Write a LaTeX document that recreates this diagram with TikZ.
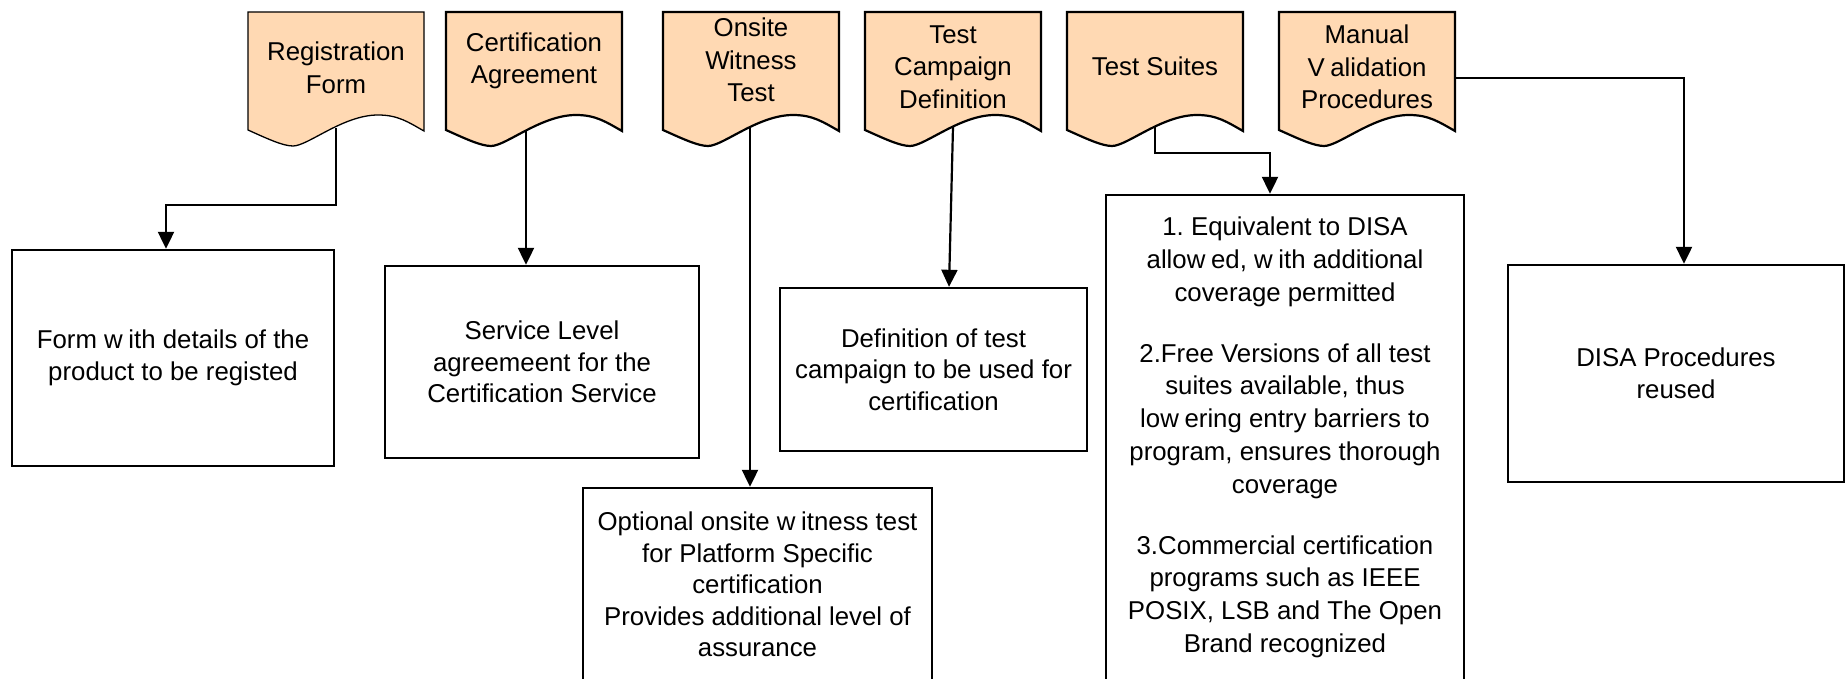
\documentclass[tikz,border=0pt]{standalone}
\usepackage{fontspec}
\setmainfont{Liberation Sans}
\usetikzlibrary{arrows.meta,calc}
\frenchspacing
\definecolor{peach}{RGB}{255,217,179}
\tikzset{
  box/.style={draw=black, line width=2.4pt, align=center, inner sep=0pt, font=\fontsize{25.8}{31.5}\selectfont},
  doctext/.style={align=center, inner sep=0pt, font=\fontsize{25.8}{32.5}\selectfont},
  docline/.style={draw=black, fill=peach, line width=2.2pt, line join=miter},
  conn/.style={line width=2.2pt, -{Triangle[length=17pt,width=16pt]}},
}
\newcommand{\wg}{\kern0.22em}
\newcommand{\docshape}[5][]{%
  \filldraw[docline,#1] (#3,12) -- (#3+176,12) -- (#3+176,131)
     .. controls (#3+160,122) and (#3+150,115) .. (#3+130,115)
     .. controls (#3+95,115) and (#3+60,146) .. (#3+45,146)
     .. controls (#3+35,146) and (#3+20,139) .. (#3,130) -- cycle;
  \node[doctext] (#2) at (#3+88,#4) {#5};
}
\begin{document}
\begin{tikzpicture}[x=1pt,y=-1pt]
\useasboundingbox (0,0) rectangle (1845,679);
% documents
\docshape[line width=1.3pt]{d1}{248}{68}{Registration\\Form}
\docshape{d2}{446}{61}{Certification\\Agreement}
\docshape{d3}{663}{60}{Onsite\\W\kern-0.02em itness\\Test}
\docshape{d4}{865}{67}{Test\\Campaign\\Definition}
\docshape{d5}{1067}{66}{Test Suites}
\docshape{d6}{1279}{67}{Manual\\V\wg alidation\\Procedures}
% boxes
\node[box, minimum width=322pt, minimum height=216pt] (b1) at (173,358)
  {Form w\wg ith details of the\\product to be registed};
\node[box, minimum width=314pt, minimum height=192pt] (b2) at (542,362)
  {Service Level\\agreemeent for the\\Certification Service};
\node[box, minimum width=349pt, minimum height=193pt] (b3) at (757.5,584.5)
  {Optional onsite w\wg itness test\\for Platform Specific\\certification\\Provides additional level of\\assurance};
\node[box, minimum width=307pt, minimum height=163pt] (b4) at (933.5,369.5)
  {Definition of test\\campaign to be used for\\certification};
\node[box, minimum width=358pt, minimum height=485pt, font=\fontsize{25.8}{32.8}\selectfont] (b5) at (1285,437.5)
  {1. Equivalent to DISA\\allow\wg ed, w\wg ith additional\\coverage permitted\\[28pt]
   2.Free Versions of all test\\suites available, thus\\low\wg ering entry barriers to\\program, ensures thorough\\coverage\\[28pt]
   3.Commercial certification\\programs such as IEEE\\POSIX, LSB and The Open\\Brand recognized};
\node[box, minimum width=336pt, minimum height=217pt, font=\fontsize{25.8}{32.5}\selectfont] (b6) at (1676,373.5)
  {DISA Procedures\\reused};
% connector points
\coordinate (s1) at (336,128);
\coordinate (a1) at (166,205);
\coordinate (s2) at (526,130);
\coordinate (s3) at (750,127);
\coordinate (s4) at (953,127);
\coordinate (s5) at (1155,127);
\coordinate (a5) at (1270,153);
\coordinate (s6) at (1456,78);
\coordinate (a6) at (1684,78);
% connectors
\draw[conn] (s1) |- (a1) -- (a1 |- b1.north);
\draw[conn] (s2) -- (s2 |- b2.north);
\draw[conn] (s3) -- (s3 |- b3.north);
\draw[conn] (s4) -- ([xshift=15.5pt]b4.north);
\draw[conn] (s5) |- (a5) -- (a5 |- b5.north);
\draw[conn] (s6) -- (a6) -- (a6 |- b6.north);
\end{tikzpicture}
\end{document}
